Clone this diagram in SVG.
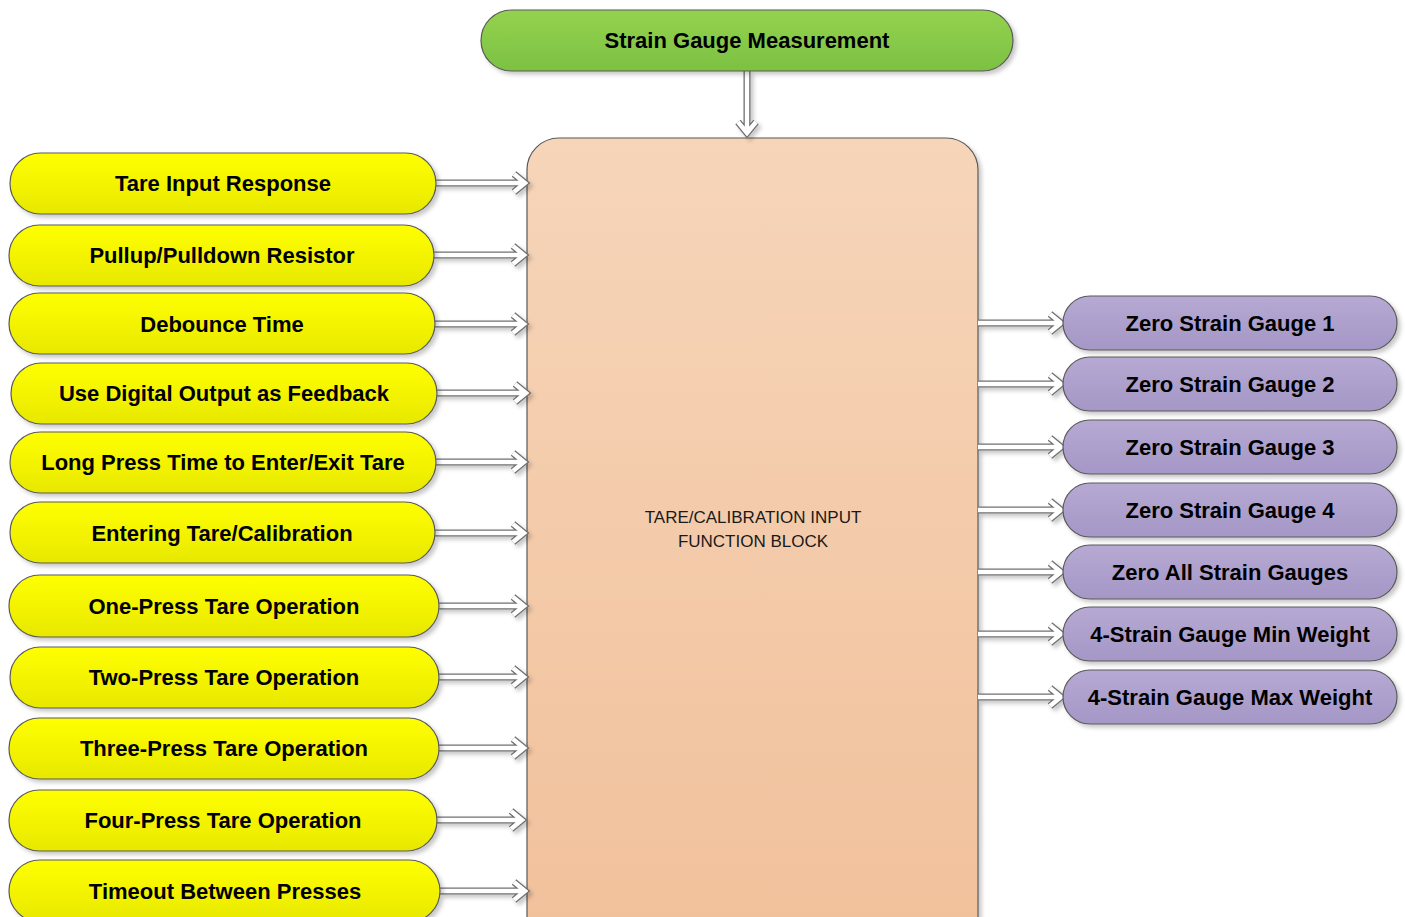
<svg xmlns="http://www.w3.org/2000/svg" width="1405" height="917" viewBox="0 0 1405 917">
<defs>
<linearGradient id="gY" x1="0" y1="0" x2="0" y2="1"><stop offset="0" stop-color="#ffff00"/><stop offset="1" stop-color="#e8e800"/></linearGradient>
<linearGradient id="gP" x1="0" y1="0" x2="0" y2="1"><stop offset="0" stop-color="#b6a9d3"/><stop offset="1" stop-color="#a597c6"/></linearGradient>
<linearGradient id="gG" x1="0" y1="0" x2="0" y2="1"><stop offset="0" stop-color="#94d24f"/><stop offset="1" stop-color="#7cc142"/></linearGradient>
<linearGradient id="gO" x1="0" y1="0" x2="0" y2="1"><stop offset="0" stop-color="#f6d5b9"/><stop offset="1" stop-color="#f1c09a"/></linearGradient>
<filter id="sh" x="-10%" y="-20%" width="130%" height="160%"><feDropShadow dx="3" dy="3" stdDeviation="2" flood-color="#000" flood-opacity="0.22"/></filter>
<style>
.n{stroke:#5a5a5a;stroke-width:1.2;filter:url(#sh)}
.y{fill:url(#gY)}
.p{fill:url(#gP)}
.g{fill:url(#gG)}
.o{fill:url(#gO)}
.t{font-family:"Liberation Sans",Arial,sans-serif;font-weight:bold;font-size:22px;fill:#000;text-anchor:middle;dominant-baseline:central}
.c{font-family:"Liberation Sans",Arial,sans-serif;font-size:17px;fill:#1a1a1a;text-anchor:middle}
.ao{fill:none;stroke:#707070;stroke-width:7;stroke-linejoin:miter}
.ai{fill:none;stroke:#ffffff;stroke-width:4.4;stroke-linejoin:miter}
</style>
</defs>

<g id="center-block">
<rect class="n o" x="527" y="138" width="451" height="830" rx="32"/>
<text class="c" x="753" y="523">TARE/CALIBRATION INPUT</text>
<text class="c" x="753" y="547">FUNCTION BLOCK</text>
</g>

<g id="connectors" filter="url(#sh)">
<path class="ao" d="M747,71 V134 M738,122 L747,133 L756,122"/>
<path class="ai" d="M747,71 V134 M738,122 L747,133 L756,122"/>
<path class="ao" d="M436,183 H524 M514,174 L525,183 L514,192"/>
<path class="ai" d="M436,183 H524 M514,174 L525,183 L514,192"/>
<path class="ao" d="M434,255 H523 M513,246 L524,255 L513,264"/>
<path class="ai" d="M434,255 H523 M513,246 L524,255 L513,264"/>
<path class="ao" d="M435,324 H523 M513,315 L524,324 L513,333"/>
<path class="ai" d="M435,324 H523 M513,315 L524,324 L513,333"/>
<path class="ao" d="M437,393 H525 M515,384 L526,393 L515,402"/>
<path class="ai" d="M437,393 H525 M515,384 L526,393 L515,402"/>
<path class="ao" d="M436,462 H523 M513,453 L524,462 L513,471"/>
<path class="ai" d="M436,462 H523 M513,453 L524,462 L513,471"/>
<path class="ao" d="M435,533 H523 M513,524 L524,533 L513,542"/>
<path class="ai" d="M435,533 H523 M513,524 L524,533 L513,542"/>
<path class="ao" d="M439,606 H523 M513,597 L524,606 L513,615"/>
<path class="ai" d="M439,606 H523 M513,597 L524,606 L513,615"/>
<path class="ao" d="M439,677 H523 M513,668 L524,677 L513,686"/>
<path class="ai" d="M439,677 H523 M513,668 L524,677 L513,686"/>
<path class="ao" d="M439,748 H523 M513,739 L524,748 L513,757"/>
<path class="ai" d="M439,748 H523 M513,739 L524,748 L513,757"/>
<path class="ao" d="M437,820 H521 M511,811 L522,820 L511,829"/>
<path class="ai" d="M437,820 H521 M511,811 L522,820 L511,829"/>
<path class="ao" d="M440,891 H524 M514,882 L525,891 L514,900"/>
<path class="ai" d="M440,891 H524 M514,882 L525,891 L514,900"/>
<path class="ao" d="M978,323 H1060 M1050,314 L1061,323 L1050,332"/>
<path class="ai" d="M978,323 H1060 M1050,314 L1061,323 L1050,332"/>
<path class="ao" d="M978,384 H1060 M1050,375 L1061,384 L1050,393"/>
<path class="ai" d="M978,384 H1060 M1050,375 L1061,384 L1050,393"/>
<path class="ao" d="M978,447 H1060 M1050,438 L1061,447 L1050,456"/>
<path class="ai" d="M978,447 H1060 M1050,438 L1061,447 L1050,456"/>
<path class="ao" d="M978,510 H1060 M1050,501 L1061,510 L1050,519"/>
<path class="ai" d="M978,510 H1060 M1050,501 L1061,510 L1050,519"/>
<path class="ao" d="M978,572 H1060 M1050,563 L1061,572 L1050,581"/>
<path class="ai" d="M978,572 H1060 M1050,563 L1061,572 L1050,581"/>
<path class="ao" d="M978,634 H1060 M1050,625 L1061,634 L1050,643"/>
<path class="ai" d="M978,634 H1060 M1050,625 L1061,634 L1050,643"/>
<path class="ao" d="M978,697 H1060 M1050,688 L1061,697 L1050,706"/>
<path class="ai" d="M978,697 H1060 M1050,688 L1061,697 L1050,706"/>
</g>

<g id="n-strain-gauge-measurement"><rect class="n g" x="481" y="10" width="532" height="61" rx="30.5"/><text class="t" x="747" y="40">Strain Gauge Measurement</text></g>

<g id="n-tare-input-response"><rect class="n y" x="10" y="153" width="426" height="61" rx="30.5"/><text class="t" x="223" y="183">Tare Input Response</text></g>
<g id="n-pullup"><rect class="n y" x="9" y="225" width="425" height="61" rx="30.5"/><text class="t" x="222" y="255">Pullup/Pulldown Resistor</text></g>
<g id="n-debounce"><rect class="n y" x="9" y="293" width="426" height="61" rx="30.5"/><text class="t" x="222" y="324">Debounce Time</text></g>
<g id="n-digital-output"><rect class="n y" x="11" y="363" width="426" height="61" rx="30.5"/><text class="t" x="224" y="393">Use Digital Output as Feedback</text></g>
<g id="n-long-press"><rect class="n y" x="10" y="432" width="426" height="61" rx="30.5"/><text class="t" x="223" y="462">Long Press Time to Enter/Exit Tare</text></g>
<g id="n-entering"><rect class="n y" x="10" y="502" width="425" height="61" rx="30.5"/><text class="t" x="222" y="533">Entering Tare/Calibration</text></g>
<g id="n-one-press"><rect class="n y" x="9" y="575" width="430" height="62" rx="31"/><text class="t" x="224" y="606">One-Press Tare Operation</text></g>
<g id="n-two-press"><rect class="n y" x="10" y="647" width="429" height="61" rx="30.5"/><text class="t" x="224" y="677">Two-Press Tare Operation</text></g>
<g id="n-three-press"><rect class="n y" x="9" y="718" width="430" height="61" rx="30.5"/><text class="t" x="224" y="748">Three-Press Tare Operation</text></g>
<g id="n-four-press"><rect class="n y" x="9" y="790" width="428" height="61" rx="30.5"/><text class="t" x="223" y="820">Four-Press Tare Operation</text></g>
<g id="n-timeout"><rect class="n y" x="9" y="860" width="431" height="62" rx="31"/><text class="t" x="225" y="891">Timeout Between Presses</text></g>

<g id="n-zero-1"><rect class="n p" x="1063" y="296" width="334" height="54" rx="27"/><text class="t" x="1230" y="323">Zero Strain Gauge 1</text></g>
<g id="n-zero-2"><rect class="n p" x="1063" y="357" width="334" height="54" rx="27"/><text class="t" x="1230" y="384">Zero Strain Gauge 2</text></g>
<g id="n-zero-3"><rect class="n p" x="1063" y="420" width="334" height="54" rx="27"/><text class="t" x="1230" y="447">Zero Strain Gauge 3</text></g>
<g id="n-zero-4"><rect class="n p" x="1063" y="483" width="334" height="54" rx="27"/><text class="t" x="1230" y="510">Zero Strain Gauge 4</text></g>
<g id="n-zero-all"><rect class="n p" x="1063" y="545" width="334" height="54" rx="27"/><text class="t" x="1230" y="572">Zero All Strain Gauges</text></g>
<g id="n-min-weight"><rect class="n p" x="1063" y="607" width="334" height="54" rx="27"/><text class="t" x="1230" y="634">4-Strain Gauge Min Weight</text></g>
<g id="n-max-weight"><rect class="n p" x="1063" y="670" width="334" height="54" rx="27"/><text class="t" x="1230" y="697">4-Strain Gauge Max Weight</text></g>
</svg>
